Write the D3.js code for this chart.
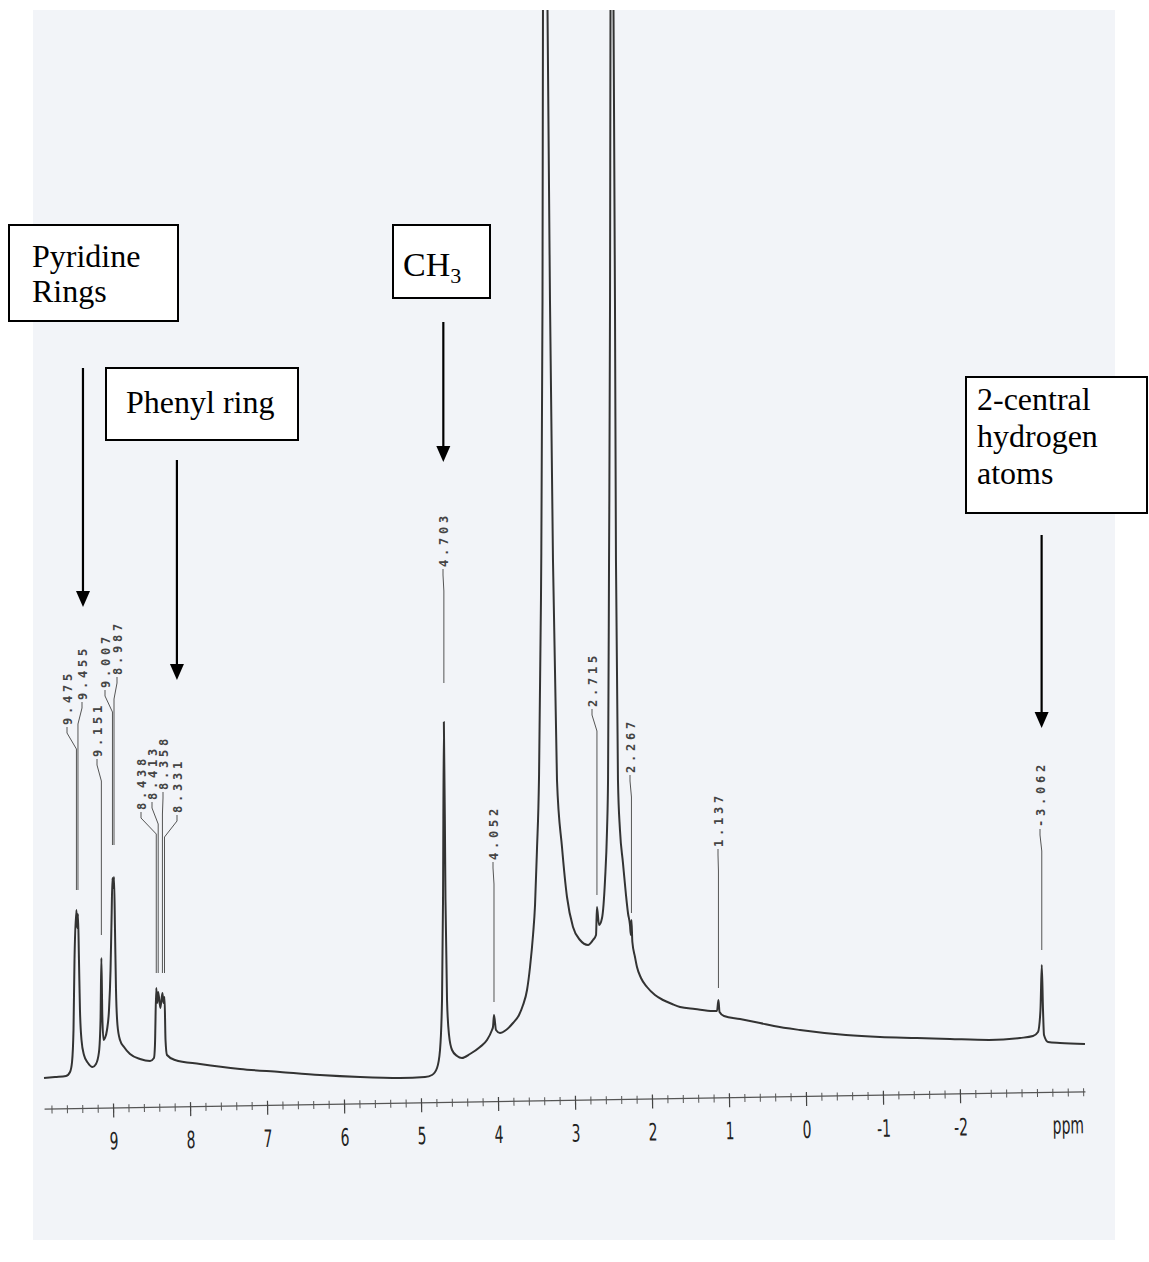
<!DOCTYPE html>
<html>
<head>
<meta charset="utf-8">
<script src="https://cdn.jsdelivr.net/npm/d3@7"></script>
<style>
  body { margin: 0; background: #fff; }
  svg { display: block; }
</style>
</head>
<body>
<svg id="chart" width="1149" height="1262"></svg>
<script>
// 1H NMR trace (ppm, signal height in plot units)
const tracePpm = [9.896, 9.753, 9.610, 9.558, 9.532, 9.513, 9.500, 9.475, 9.465, 9.455,
  9.442, 9.429, 9.409, 9.377, 9.325, 9.266, 9.221, 9.182, 9.162, 9.151,
  9.139, 9.123, 9.104, 9.078, 9.052, 9.032, 9.019, 9.007, 8.997, 8.987,
  8.974, 8.961, 8.942, 8.909, 8.857, 8.779, 8.649, 8.519, 8.468, 8.455,
  8.438, 8.425, 8.413, 8.385, 8.358, 8.345, 8.331, 8.318, 8.299, 8.195,
  7.870, 7.351, 6.831, 6.312, 5.792, 5.273, 4.948, 4.857, 4.792, 4.753,
  4.727, 4.714, 4.703, 4.682, 4.662, 4.636, 4.597, 4.532, 4.468, 4.364,
  4.234, 4.143, 4.078, 4.065, 4.052, 4.026, 3.974, 3.896, 3.805, 3.727,
  3.675, 3.623, 3.584, 3.545, 3.519, 3.494, 3.468, 3.442, 3.422, 3.416,
  3.383, 3.357, 3.325, 3.286, 3.234, 3.169, 3.104, 3.026, 2.935, 2.831,
  2.766, 2.727, 2.715, 2.688, 2.649, 2.610, 2.584, 2.571, 2.558, 2.545,
  2.539, 2.519, 2.500, 2.481, 2.468, 2.442, 2.416, 2.377, 2.338, 2.312,
  2.286, 2.275, 2.267, 2.255, 2.221, 2.195, 2.143, 2.065, 1.961, 1.857,
  1.740, 1.636, 1.442, 1.208, 1.156, 1.137, 1.123, 1.065, 0.857, 0.597,
  0.416, 0.078, -0.519, -0.961, -1.442, -1.870, -2.377, -2.779, -2.948, -3.013,
  -3.045, -3.062, -3.078, -3.091, -3.143, -3.299, -3.623];
const traceHeight = [12, 13, 14, 18, 28, 60, 130, 180, 162, 176,
  130, 80, 50, 35, 27, 23, 26, 38, 70, 132,
  75, 50, 52, 60, 80, 120, 170, 212, 202, 213,
  160, 100, 65, 50, 43, 36, 31, 29, 32, 45,
  102, 87, 98, 82, 97, 87, 93, 50, 35, 30,
  26, 21, 18, 15, 13, 12, 13, 15, 22, 40,
  90, 190, 368, 190, 90, 55, 40, 34, 32, 36,
  43, 50, 60, 63, 75, 60, 57, 60, 67, 75,
  85, 100, 123, 155, 185, 240, 310, 490, 790, 1080,
  1400, 1080, 790, 530, 310, 243, 193, 163, 150, 145,
  150, 155, 183, 165, 172, 210, 260, 310, 530, 790,
  1080, 1400, 1080, 790, 530, 310, 260, 227, 195, 177,
  165, 155, 170, 148, 133, 123, 112, 103, 95, 90,
  86, 83, 81, 79, 79, 90, 78, 74, 71, 67,
  64, 60, 55, 53, 52, 51, 50, 52, 54, 58,
  80, 125, 80, 55, 48, 47, 46];

// picked peaks printed above the trace
const peakShifts = [9.475, 9.455, 9.151, 9.007, 8.987, 8.438, 8.413, 8.358, 8.331,
  4.703, 4.052, 2.715, 2.267, 1.137, -3.062];
// label layout: text centre x, text foot y, leader end y (pixels)
const peakLabelX = [67, 82, 97, 105, 117, 141, 152, 163, 177, 443, 493, 592, 630, 718, 1040];
const peakLabelFoot = [725, 700, 757, 688, 675, 810, 800, 790, 813, 567, 860, 707, 773, 847, 827];
const peakLabelEnd = [890, 890, 935, 845, 845, 973, 973, 973, 973, 683, 1002, 895, 913, 988, 950];

const axisTicks = [9, 8, 7, 6, 5, 4, 3, 2, 1, 0, -1, -2];
const axisTickLabels = ["9", "8", "7", "6", "5", "4", "3", "2", "1", "0", "-1", "-2"];

// assignment boxes and the shift each arrow points at
const noteLines = [["Pyridine", "Rings"], ["Phenyl ring"], ["CH"], ["2-central", "hydrogen", "atoms"]];
const notePpm = [9.39, 8.17, 4.71, -3.06];

const svg = d3.select("#chart");

const x = d3.scaleLinear().domain([9, -2]).range([113, 960]);
const y = d3.scaleLinear().domain([0, 1000]).range([1090, 90]);

// scanned sheet
svg.append("rect").attr("x", 33).attr("y", 10).attr("width", 1082).attr("height", 1230)
  .attr("fill", "#f2f4f8");

svg.append("clipPath").attr("id", "sheet")
  .append("rect").attr("x", 33).attr("y", 10).attr("width", 1082).attr("height", 1230);

// spectrum trace
const trace = tracePpm.map((p, i) => ({ppm: p, h: traceHeight[i]}));
const line = d3.line()
  .x(d => x(d.ppm))
  .y(d => y(d.h))
  .curve(d3.curveMonotoneX);

svg.append("path")
  .datum(trace)
  .attr("clip-path", "url(#sheet)")
  .attr("d", line)
  .attr("fill", "none")
  .attr("stroke", "#333")
  .attr("stroke-width", 2)
  .attr("stroke-linejoin", "round");

// peak labels with their kinked leaders
const labels = svg.append("g");
peakShifts.forEach((p, i) => {
  const tx = peakLabelX[i], foot = peakLabelFoot[i], end = peakLabelEnd[i];
  const px = x(p);
  labels.append("path")
    .attr("d", `M${tx},${foot + 2} L${tx},${foot + 8} L${px},${foot + 24} L${px},${end}`)
    .attr("fill", "none")
    .attr("stroke", "#555")
    .attr("stroke-width", 1);
  labels.append("text")
    .attr("transform", `translate(${tx + 4.5},${foot}) rotate(-90)`)
    .attr("font-family", "DejaVu Sans Mono, monospace")
    .attr("font-size", 12)
    .attr("font-weight", "bold")
    .attr("letter-spacing", 3.8)
    .attr("fill", "#444")
    .text(p.toFixed(3));
});

// ppm axis, slightly skewed like the scan
const axisScale = x.copy().domain([x.invert(44), x.invert(1085)]).range([44, 1085]);
const axisG = svg.append("g").attr("transform", "rotate(-0.95,560,1100)");

const minorTicks = d3.range(49, -19, -1).map(i => i / 5);
const minorAxis = axisG.append("g").attr("transform", "translate(0,1100)")
  .call(d3.axisBottom(axisScale).tickValues(minorTicks).tickFormat("").tickSizeOuter(0));
minorAxis.select(".domain").attr("stroke", "#555").attr("stroke-width", 1.3);
minorAxis.selectAll(".tick line").attr("y1", -3).attr("y2", 5).attr("stroke", "#555");

const majorAxis = axisG.append("g").attr("transform", "translate(0,1100)")
  .call(d3.axisBottom(axisScale).tickValues(axisTicks)
    .tickFormat((d, i) => axisTickLabels[i]).tickSizeOuter(0));
majorAxis.select(".domain").remove();
majorAxis.selectAll(".tick line").attr("y1", -4).attr("y2", 10).attr("stroke", "#444").attr("stroke-width", 1.2);
majorAxis.selectAll(".tick text")
  .attr("y", 42).attr("dy", null)
  .attr("transform", "scale(0.58,1)")
  .attr("font-family", "DejaVu Sans, sans-serif")
  .attr("font-size", 24)
  .attr("fill", "#222");

axisG.append("text")
  .attr("transform", `translate(${axisScale(-3.4)},1142) scale(0.58,1)`)
  .attr("text-anchor", "middle")
  .attr("font-family", "DejaVu Sans, sans-serif")
  .attr("font-size", 24)
  .attr("fill", "#222")
  .text("ppm");

// assignment boxes and arrows
const boxes = [
  {x: 9, y: 225, w: 169, h: 96, tx: 32, ty: [267, 302], size: 32},
  {x: 106, y: 368, w: 192, h: 72, tx: 126, ty: [413], size: 32},
  {x: 393, y: 225, w: 97, h: 73, tx: 403, ty: [276], size: 34},
  {x: 966, y: 377, w: 181, h: 136, tx: 977, ty: [410, 447, 484], size: 32}
];
const arrows = [[368, 607], [460, 680], [322, 462], [535, 728]];

const notes = svg.append("g");
noteLines.forEach((lines, i) => {
  const b = boxes[i];
  notes.append("rect")
    .attr("x", b.x).attr("y", b.y).attr("width", b.w).attr("height", b.h)
    .attr("fill", "#fff").attr("stroke", "#000").attr("stroke-width", 2);
  lines.forEach((t, j) => {
    const txt = notes.append("text")
      .attr("x", b.tx).attr("y", b.ty[j])
      .attr("font-family", "Liberation Serif, Times New Roman, serif")
      .attr("font-size", b.size)
      .attr("fill", "#000")
      .text(t);
    if (t === "CH") {
      txt.append("tspan").attr("dy", 7).attr("font-size", 22).text("3");
    }
  });
  const ax = x(notePpm[i]);
  const [y0, tip] = arrows[i];
  notes.append("line")
    .attr("x1", ax).attr("x2", ax).attr("y1", y0).attr("y2", tip - 12)
    .attr("stroke", "#000").attr("stroke-width", 2.2);
  notes.append("path")
    .attr("d", `M${ax - 7},${tip - 16} L${ax + 7},${tip - 16} L${ax},${tip} Z`)
    .attr("fill", "#000");
});
</script>
</body>
</html>
